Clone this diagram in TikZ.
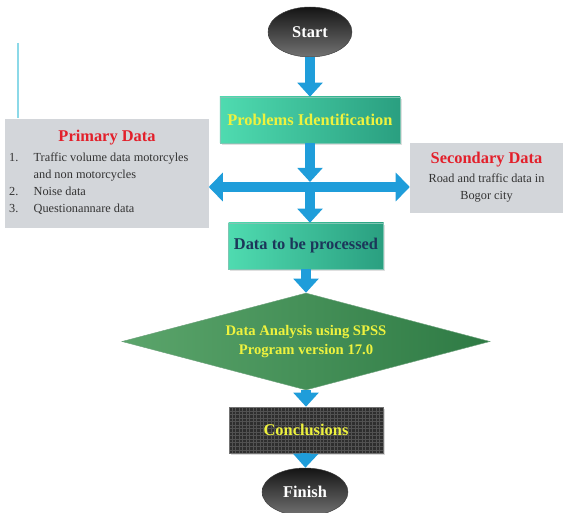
\documentclass[tikz,border=0pt]{standalone}
\usepackage{fontspec}
\setmainfont{Liberation Serif}
\usetikzlibrary{arrows.meta,shapes.geometric,shadows}

\begin{document}
\begin{tikzpicture}[x=0.03cm, y=-0.03cm,
    terminal/.style={ellipse, top color=black!92, bottom color=black!55, draw=black!75, text=white,
      font=\fontsize{14}{16}\selectfont\bfseries, inner sep=0pt},
    tealbox/.style={rectangle, left color=tealA, right color=tealB, draw=tealB!60!white,
      font=\fontsize{14}{16}\selectfont\bfseries, inner sep=0pt,
      drop shadow={opacity=0.25, shadow xshift=1.5pt, shadow yshift=-1.5pt}},
    greybox/.style={rectangle, fill=boxgrey, inner sep=0pt, text=listgrey,
      font=\fontsize{10.5}{14.5}\selectfont},
    flowarrow/.style={draw=arrowblue, line width=8.5pt, -{Triangle[width=21pt,length=12pt]}},
    ]
                    \useasboundingbox (0,0) rectangle (563,513);
                    
                    % Defining colours
                    \definecolor{tealA}{HTML}{4FDBB0}%
                    \definecolor{tealB}{HTML}{2A9F80}%
                    \definecolor{greenA}{HTML}{5BA56B}%
                    \definecolor{greenB}{HTML}{2E7A44}%
                    \definecolor{boxgrey}{HTML}{D3D6DA}%
                    \definecolor{listgrey}{HTML}{333333}%
                    \definecolor{titlered}{HTML}{E3202B}%
                    \definecolor{textyellow}{HTML}{EEF23E}%
                    \definecolor{textnavy}{HTML}{1C365A}%
                    \definecolor{arrowblue}{HTML}{1F9DDA}%
                    \definecolor{cyanline}{HTML}{8CD9E8}%
                    
                    % Drawing stray line at the left
                    \draw [cyanline, line width=1.5pt] (18,43) -- (18,118);%
                    
                    % Drawing node Start
                    \node [terminal, minimum width=2.52cm, minimum height=1.5cm] (Start) at (310,32) {Start};%
                    
                    % Drawing node Problems
                    \node [tealbox, text=textyellow, minimum width=5.4cm, minimum height=1.38cm] (Problems) at (310,120) {Problems Identification};%
                    
                    % Drawing node Primary
                    \node [greybox, minimum width=6.09cm, minimum height=3.27cm] (Primary) at (107,173.5) {%
                      \begin{tabular}{@{}l@{\hspace{13pt}}l@{\hspace{14pt}}}
                        \multicolumn{2}{@{}c@{}}{\fontsize{14}{16}\selectfont\bfseries\color{titlered}Primary Data}\\[3pt]
                        1. & Traffic volume data motorcyles\\
                           & and non motorcycles\\
                        2. & Noise data\\
                        3. & Questionannare data
                      \end{tabular}};%
                    
                    % Drawing node Secondary
                    \node [greybox, minimum width=4.59cm, minimum height=2.1cm] (Secondary) at (486.5,178) {%
                      \begin{tabular}{@{}c@{}}
                        {\fontsize{14}{16}\selectfont\bfseries\color{titlered}Secondary Data}\\[1.5pt]
                        Road and traffic data in\\
                        Bogor city
                      \end{tabular}};%
                    
                    % Drawing node Data
                    \node [tealbox, text=textnavy, minimum width=4.65cm, minimum height=1.38cm] (Data) at (306,246) {Data to be processed};%
                    
                    % Drawing node Analysis
                    \node [diamond, aspect=3.79, left color=greenA, right color=greenB, draw=greenB!70!white, text=textyellow, align=center,
                      font=\fontsize{12.5}{17}\selectfont\bfseries, inner sep=0pt,
                      minimum width=11.04cm, minimum height=2.91cm] (Analysis) at (306,341.5) {Data Analysis using SPSS\\Program version 17.0};%
                    
                    % Drawing node Conclusions
                    \node [rectangle, fill=black!82, draw=black!55, text=textyellow, inner sep=0pt,
                      font=\fontsize{14}{16}\selectfont\bfseries,
                      minimum width=4.62cm, minimum height=1.38cm,
                      drop shadow={opacity=0.3, shadow xshift=1.5pt, shadow yshift=-1.5pt},
                      path picture={\draw [black!68, line width=0.25pt] (path picture bounding box.south west) grid [step=3pt] (path picture bounding box.north east);}]
                      (Conclusions) at (306,430) {Conclusions};%
                    
                    % Drawing node Finish
                    \node [terminal, minimum width=2.58cm, minimum height=1.44cm] (Finish) at (305,492) {Finish};%
                    
                    % Drawing hub of the cross
                    \coordinate (hubtop) at (310,182);%
                    \coordinate (hub) at (310,187);%
                    
                    % Drawing arrows
                    \draw [flowarrow] (Start) -- (Problems);%
                    \draw [flowarrow] (Problems) -- (hubtop);%
                    \draw [flowarrow, {Triangle[width=24pt,length=12pt]}-{Triangle[width=24pt,length=12pt]}] (Primary.east |- hub) -- (Secondary.west |- hub);%
                    \draw [flowarrow] (hub) -- (hub |- Data.north);%
                    \draw [flowarrow] (Data) -- (Analysis);%
                    \draw [flowarrow] (Analysis) -- (Conclusions);%
                    \draw [flowarrow] (Conclusions) -- (Finish);%
\end{tikzpicture}
\end{document}
